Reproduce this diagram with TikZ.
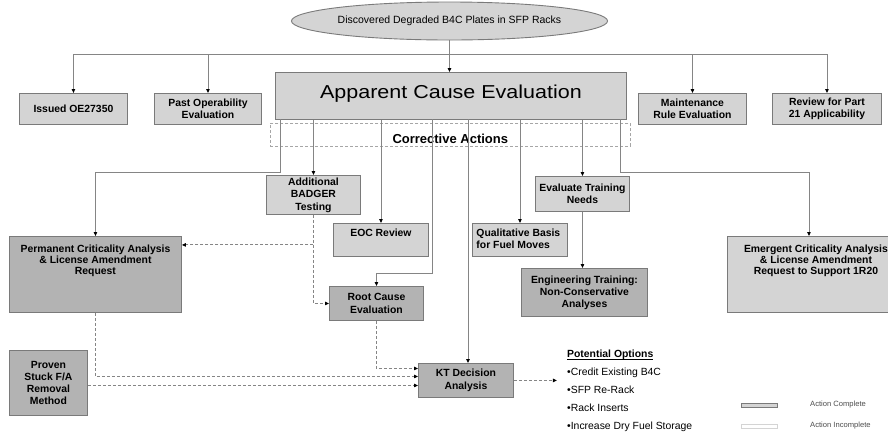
\documentclass[tikz,border=0pt]{standalone}
\usepackage{fontspec}
\setmainfont{Liberation Sans}
\newfontfamily\widefont[FakeStretch=1.15]{Liberation Sans}
\usetikzlibrary{arrows.meta,shapes.geometric,calc}
\definecolor{boxlight}{HTML}{D4D4D4}
\definecolor{boxdark}{HTML}{B3B3B3}
\definecolor{edgegray}{HTML}{7A7A7A}
\definecolor{linegray}{HTML}{858585}
\newcommand\toptext[5]{\parbox[c][#2][t]{#1}{\centering\fontsize{10.4}{#4}\selectfont\rule{0pt}{#3}#5}}
\tikzset{
 box/.style={draw=edgegray, line width=0.9pt, inner sep=0pt, anchor=north west,
   font=\bfseries\fontsize{10.4}{12.5}\selectfont, align=center},
 light/.style={box, fill=boxlight},
 dark/.style={box, fill=boxdark},
 conn/.style={draw=linegray, line width=0.9pt, -{Triangle[length=4pt,width=3.5pt,color=black]}},
 dconn/.style={conn, dash pattern=on 3pt off 2pt},
}
\begin{document}
\begin{tikzpicture}[x=1pt,y=-1pt]
\useasboundingbox (0,0) rectangle (888,432);
\clip (0,0) rectangle (888,432);

% top event
\node[ellipse, draw=edgegray, line width=0.9pt, fill=boxlight, minimum width=276pt, minimum height=38pt,
  inner sep=0pt, font=\fontsize{10.5}{12}\selectfont] (top) at (449.5,21) {Discovered Degraded B4C Plates in SFP Racks};

% first row
\node[light, minimum width=108pt, minimum height=31pt] (oe) at (19,93) {Issued OE27350};
\node[light, minimum width=107pt, minimum height=31pt] (past) at (154,93) {Past Operability\\Evaluation};
\node[light, minimum width=351pt, minimum height=47pt, font=\widefont\fontsize{18.7}{20}\selectfont,
  text height=13.5pt, text depth=8pt] (ace) at (275,72) {Apparent Cause Evaluation};
\node[light, minimum width=108pt, minimum height=31pt] (maint) at (638,93) {Maintenance\\Rule Evaluation};
\node[light, minimum width=109pt, minimum height=31pt] (rev) at (772,93) {Review for Part\\21 Applicability};

% corrective actions band
\node[draw=gray!70, line width=0.6pt, dash pattern=on 3pt off 2pt, minimum width=360pt, minimum height=23pt,
  anchor=north west, inner sep=0pt, font=\bfseries\fontsize{13}{15}\selectfont,
  text height=17pt, text depth=0pt] (ca) at (270,123) {Corrective Actions};

% second level
\node[light, minimum width=94pt, minimum height=39pt] (badger) at (266,175) {Additional\\BADGER\\Testing};
\node[light, minimum width=95pt, minimum height=33pt] (eoc) at (333,223) {\toptext{95pt}{33pt}{12.7pt}{12pt}{EOC Review}};
\node[light, minimum width=95pt, minimum height=33pt] (qual) at (472,223)
  {\parbox[c][33pt][t]{95pt}{\raggedright\leftskip=4pt\fontsize{10.4}{12}\selectfont\rule{0pt}{12.7pt}Qualitative Basis\\for Fuel Moves}};
\node[light, minimum width=94pt, minimum height=35pt] (evtr) at (535,176) {Evaluate Training\\Needs};
\node[dark, minimum width=126pt, minimum height=48pt, font=\bfseries\fontsize{10.4}{12}\selectfont] (eng) at (521,268)
  {Engineering Training:\\Non-Conservative\\Analyses};
\node[dark, minimum width=172pt, minimum height=76pt] (perm) at (9,236)
  {\toptext{172pt}{76pt}{16.5pt}{11pt}{Permanent Criticality Analysis\\\& License Amendment\\Request}};
\node[light, minimum width=177pt, minimum height=76pt] (emer) at (727,236)
  {\toptext{177pt}{76pt}{16.5pt}{11pt}{Emergent Criticality Analysis\\\& License Amendment\\Request to Support 1R20}};
\node[dark, minimum width=94pt, minimum height=34pt] (root) at (329,286) {Root Cause\\Evaluation};
\node[dark, minimum width=95pt, minimum height=34pt] (kt) at (418,363) {KT Decision\\Analysis};
\node[dark, minimum width=78pt, minimum height=65pt, font=\bfseries\fontsize{10.4}{11.7}\selectfont] (proven) at (9,350)
  {Proven\\Stuck F/A\\Removal\\Method};

% connectors from top event
\coordinate (bus) at (449.5,54);
\draw[conn] (top.south) -- (top.south |- ace.north);
\draw[conn] (bus) -| (oe.north);
\draw[conn] (bus) -| (past.north);
\draw[conn] (bus) -| (maint.north);
\draw[conn] (bus) -| (rev.north);

% corrective action connectors
\coordinate (s1) at (280,119);
\coordinate (s4) at (432,119);
\coordinate (s5) at (468,119);
\coordinate (s8) at (620,119);
\draw[conn] (s1) -- ++(0,53) -| (perm.north);
\draw[conn] (ace.south -| badger.north) -- (badger.north);
\draw[conn] (ace.south -| eoc.north) -- (eoc.north);
\draw[conn] (s4) -- ++(0,154) -| (root.north);
\draw[conn] (s5) -- (s5 |- kt.north);
\draw[conn] (ace.south -| qual.north) -- (qual.north);
\draw[conn] (ace.south -| evtr.north) -- (evtr.north);
\draw[conn] (s8) -- ++(0,53) -| ($(emer.north)+(-7,0)$);
\draw[conn] (evtr.south) -- (evtr.south |- eng.north);

% dashed connectors
\coordinate (bp) at ($(badger.south)+(0,30)$);
\coordinate (k1) at ($(kt.west)+(0,-12)$);
\coordinate (k2) at ($(kt.west)+(0,-4)$);
\coordinate (k3) at ($(kt.west)+(0,5)$);
\draw[dconn] (badger.south) |- (root.west);
\draw[dconn] (bp) -- (bp -| perm.east);
\draw[dconn] (root.south) |- (k1);
\draw[dconn] (perm.south) |- (k2);
\draw[dconn] (proven.east |- k3) -- (k3);
\coordinate (optarrow) at ($(kt.east)+(43,0)$);
\draw[dconn] (kt.east) -- (optarrow);

% options
\node[anchor=north west, inner sep=0pt, align=left, font=\fontsize{10.4}{18}\selectfont] (opts) at (567,350)
  {{\setbox0\hbox{\bfseries Potential Options}\rlap{\rule[-1.5pt]{\wd0}{0.6pt}}\box0}\\
   •Credit Existing B4C\\
   •SFP Re-Rack\\
   •Rack Inserts\\
   •Increase Dry Fuel Storage};

% legend
\node[draw=edgegray, line width=0.7pt, fill=boxlight, minimum width=36pt, minimum height=4pt, inner sep=0pt,
  anchor=north west] (lg1) at (741,403) {};
\node[anchor=west, inner sep=0pt, font=\fontsize{7.6}{9}\selectfont, text=gray!60!black] (lt1) at (810,405) {Action Complete};
\node[draw=boxlight, line width=0.7pt, fill=white, minimum width=36pt, minimum height=4pt, inner sep=0pt,
  anchor=north west] (lg2) at (741,424) {};
\node[anchor=west, inner sep=0pt, font=\fontsize{7.6}{9}\selectfont, text=gray!60!black] (lt2) at (810,426) {Action Incomplete};
\end{tikzpicture}
\end{document}
